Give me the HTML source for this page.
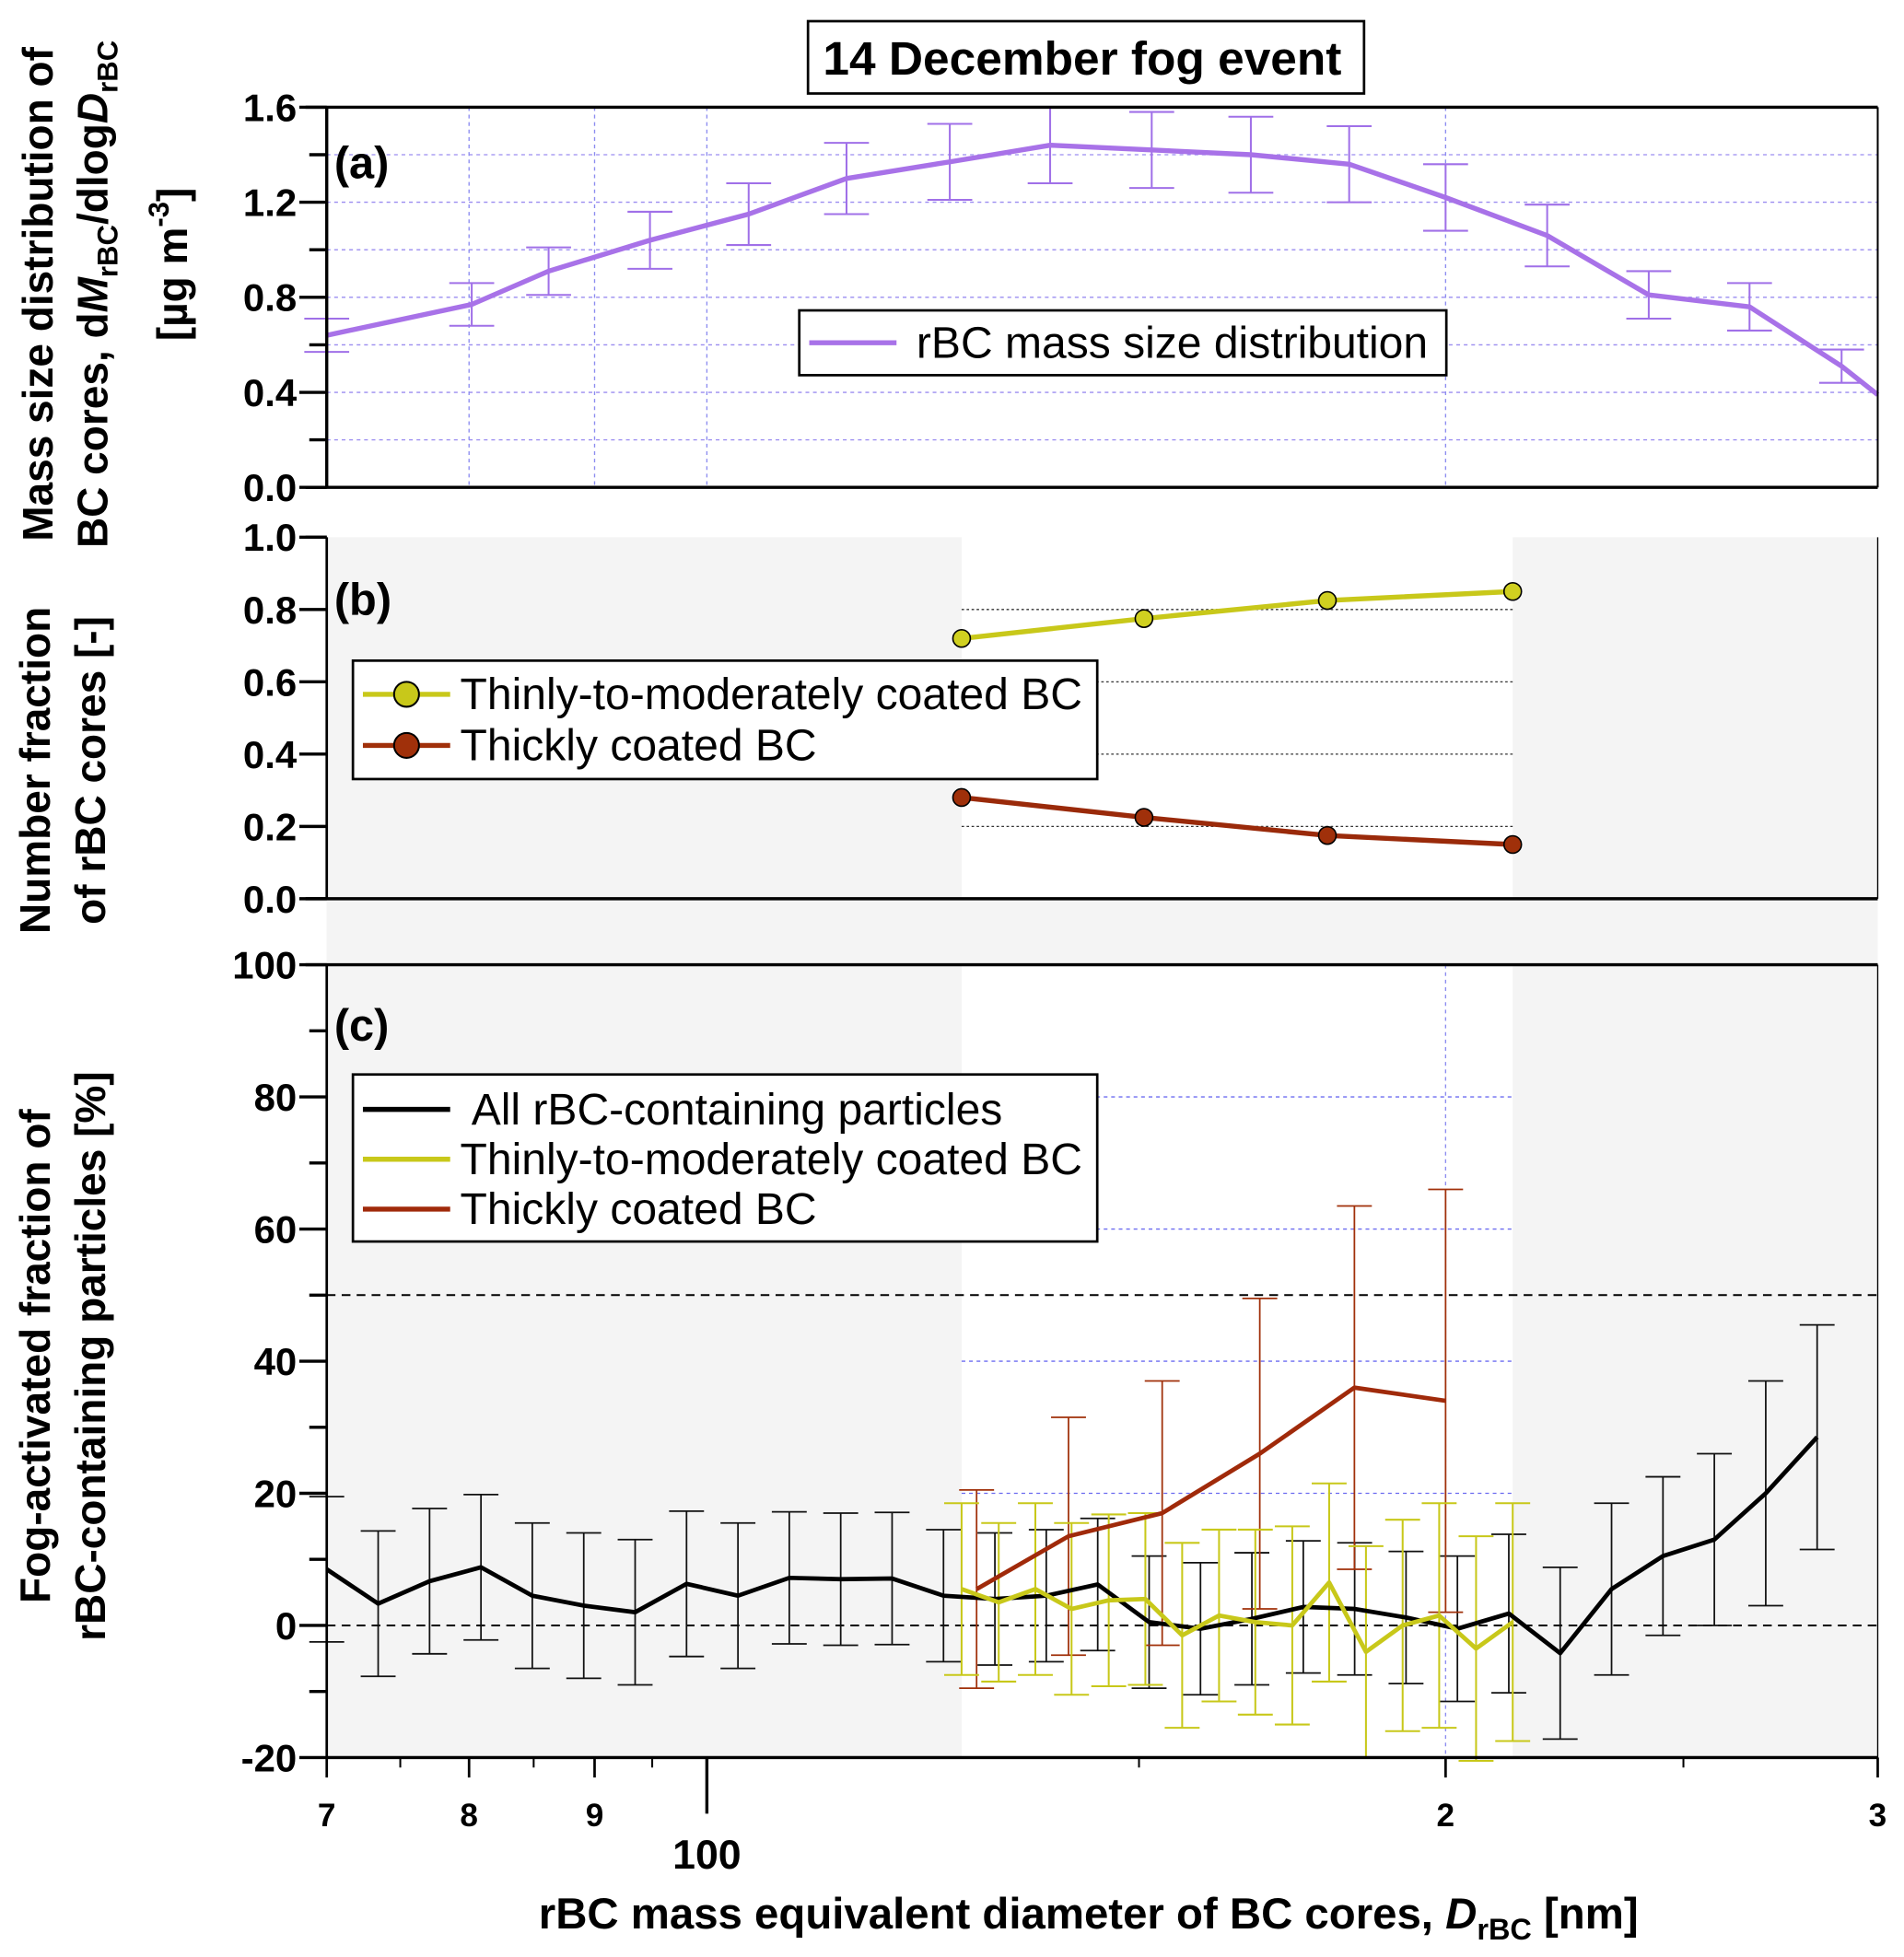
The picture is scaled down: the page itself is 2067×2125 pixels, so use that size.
<!DOCTYPE html>
<html><head><meta charset="utf-8"><style>
html,body{margin:0;padding:0;background:#fff;}
svg{display:block;font-family:"Liberation Sans",Arial,sans-serif;}
</style></head><body>
<svg id="chart" width="2067" height="2125" viewBox="0 0 1527 1570" xmlns="http://www.w3.org/2000/svg">
<g id="bg"></g>
<g id="grid"></g>
<g id="marks"></g>
<g id="axes"></g>
<g id="title-box">
  <rect x="648" y="17" width="446" height="58" fill="#fff" stroke="#000" stroke-width="2"/>
  <text x="868" y="60" text-anchor="middle" font-size="38" font-weight="bold">14 December fog event</text>
</g>
<text x="268" y="143" font-size="36" font-weight="bold">(a)</text>
<text x="268" y="493" font-size="36" font-weight="bold">(b)</text>
<text x="268" y="835" font-size="36" font-weight="bold">(c)</text>
<g font-weight="bold" font-size="34" text-anchor="middle">
  <text transform="translate(42,236) rotate(-90)">Mass size distribution of</text>
  <text transform="translate(86,236) rotate(-90)">BC cores, d<tspan font-style="italic">M</tspan><tspan font-size="23" dy="8">rBC</tspan><tspan dy="-8">/dlog</tspan><tspan font-style="italic">D</tspan><tspan font-size="23" dy="8">rBC</tspan></text>
  <text transform="translate(150,212) rotate(-90)">[µg m<tspan font-size="23" dy="-15">-3</tspan><tspan dy="15">]</tspan></text>
</g>
<g font-weight="bold" font-size="34" text-anchor="middle">
  <text transform="translate(40,618) rotate(-90)">Number fraction</text>
  <text transform="translate(84,618) rotate(-90)">of rBC cores [-]</text>
</g>
<g font-weight="bold" font-size="34" text-anchor="middle">
  <text transform="translate(40,1088) rotate(-90)">Fog-activated fraction of</text>
  <text transform="translate(84,1088) rotate(-90)">rBC-containing particles [%]</text>
</g>
<text x="873" y="1547" text-anchor="middle" font-size="35" font-weight="bold">rBC mass equivalent diameter of BC cores, <tspan font-style="italic">D</tspan><tspan font-size="24" dy="9">rBC</tspan><tspan dy="-9"> [nm]</tspan></text>
<g id="legends"></g>
</svg>
<script>
// ---- data ----
const diamA = [70,80.2,86.2,94.8,104,114,125.6,138,151.8,166.6,182.7,200,220,242,266,290,300];
const massA = [0.64,0.77,0.91,1.04,1.15,1.30,1.37,1.44,1.42,1.40,1.36,1.22,1.06,0.81,0.76,0.51,0.39];
const massErr = [0.07,0.09,0.10,0.12,0.13,0.15,0.16,0.16,0.16,0.16,0.16,0.14,0.13,0.10,0.10,0.07,0];
const diamB = [127,150.7,179,213];
const fracThin = [0.72,0.775,0.825,0.85];
const fracThick = [0.28,0.225,0.175,0.15];
const diamAll = [70,73.46,77.09,80.90,84.89,89.09,93.49,98.11,102.96,108.04,113.38,118.98,124.86,131.03,137.50,144.30,151.43,158.91,166.76,175.00,183.64,192.71,202.23,212.22,222.70,233.70,245.25,257.36,270.08,283.42];
const actAll = [8.5,3.3,6.7,8.8,4.5,3.0,2.0,6.3,4.5,7.2,7.0,7.1,4.5,4.0,4.5,6.2,0.5,-0.5,1.0,2.8,2.5,1.2,-0.5,1.8,-4.2,5.5,10.5,13.0,20.0,28.5];
const errAll = [11,11,11,11,11,11,11,11,11,10,10,10,10,10,10,10,10,10,10,10,10,10,11,12,13,13,12,13,17,17];
const diamThin = [127,131.5,136.1,140.8,145.8,150.9,156.2,161.7,167.3,173.2,179.3,185.6,192.1,198.8,205.8,213.0];
const actThin = [5.5,3.5,5.5,2.5,3.8,4.0,-1.5,1.5,0.5,0,6.5,-4,0,1.5,-3.5,0.5];
const errThin = [13,12,13,13,13,13,14,13,14,15,15,16,16,17,17,18];
const diamThick = [128.8,140.4,153.3,168,183.6,200];
const actThick = [5.5,13.5,17.0,26,36,34];
const errThick = [15,18,20,23.5,27.5,32];
const ticksA = [0,0.4,0.8,1.2,1.6];
const ticksB = [0,0.2,0.4,0.6,0.8,1.0];
const ticksC = [-20,0,20,40,60,80,100];
const xTickVals = [70,80,90,200,300];
const xTickLabels = ["7","8","9","2","3"];

// ---- scales ----
const X0=262, X1=1506;
const x = d => X0 + Math.log10(d/70)/Math.log10(300/70)*(X1-X0);
const yA = v => 391 - v/1.6*(391-86);
const yB = v => 721 - v*(721-431);
const yC = v => 1410 - (v+20)/120*(1410-774);
const NS="http://www.w3.org/2000/svg";
function mk(parent,tag,attrs){const e=document.createElementNS(NS,tag);for(const k in attrs)e.setAttribute(k,attrs[k]);document.getElementById(parent).appendChild(e);return e;}
const L=(p,x1,y1,x2,y2,st,w,da)=>mk(p,'line',{x1,y1,x2,y2,stroke:st,'stroke-width':w||1,'stroke-dasharray':da||'none'});

let r;
r=mk('bg','rect',{x:X0,y:431,width:x(127)-X0,height:1410-431,fill:'#f4f4f4'});


r=mk('bg','rect',{x:x(213),y:431,width:X1-x(213),height:1410-431,fill:'#f4f4f4'});


r=mk('bg','rect',{x:X0,y:721,width:X1-X0,height:53,fill:'#f4f4f4'});



for(let v=0.2;v<1.6;v+=0.2){L('grid',X0,yA(v),X1,yA(v),'#9a8cf0',1,'3,3');}
[80,90,100].forEach(d=>{L('grid',x(d),86,x(d),391,'#8c8cf0',1,'3,3');});
L('grid',x(200),86,x(200),391,'#8c8cf0',1,'3,3');
[0.2,0.4,0.6,0.8].forEach(v=>L('grid',x(127),yB(v),x(213),yB(v),'#333',1,'2,2'));
[20,40,60,80].forEach(v=>L('grid',x(127),yC(v),x(213),yC(v),'#6a6af0',1,'3,3'));
L('grid',x(200),774,x(200),1410,'#8c8cf0',1,'3,3');
L('grid',X0,yC(50),X1,yC(50),'#000',1.5,'7,5');
L('grid',X0,yC(0),X1,yC(0),'#000',1.5,'7,5');

function ebar(d,yl,yh,col,w,cap){L('marks',x(d),yl,x(d),yh,col,w);L('marks',x(d)-cap,yl,x(d)+cap,yl,col,w);L('marks',x(d)-cap,yh,x(d)+cap,yh,col,w);}
function poly(id,pts,col,w,name){const p=mk('marks','polyline',{points:pts.join(' '),fill:'none',stroke:col,'stroke-width':w,'stroke-linejoin':'round'});return p;}

diamA.forEach((d,i)=>{if(massErr[i]>0)ebar(d,yA(massA[i]-massErr[i]),yA(massA[i]+massErr[i]),'#a070e8',1.5,18);});
poly('a',diamA.map((d,i)=>x(d)+','+yA(massA[i])),'#a872e8',4,'rbc-mass-line');

poly('b',diamB.map((d,i)=>x(d)+','+yB(fracThin[i])),'#c8c81a',4,'thin-fraction-line');
poly('b',diamB.map((d,i)=>x(d)+','+yB(fracThick[i])),'#9a2a0a',4,'thick-fraction-line');
diamB.forEach((d,i)=>{
  let c=mk('marks','circle',{cx:x(d),cy:yB(fracThin[i]),r:7,fill:'#d0d020',stroke:'#000','stroke-width':1.2});
  
  
  c=mk('marks','circle',{cx:x(d),cy:yB(fracThick[i]),r:7,fill:'#a0300a',stroke:'#000','stroke-width':1.2});
  
  
});

diamAll.forEach((d,i)=>ebar(d,yC(actAll[i]-errAll[i]),yC(actAll[i]+errAll[i]),'#111',1.3,14));
diamThick.forEach((d,i)=>ebar(d,yC(actThick[i]-errThick[i]),yC(actThick[i]+errThick[i]),'#a0300a',1.3,14));
diamThin.forEach((d,i)=>ebar(d,yC(actThin[i]-errThin[i]),yC(actThin[i]+errThin[i]),'#c8c81a',1.5,14));
poly('c',diamAll.map((d,i)=>x(d)+','+yC(actAll[i])),'#000',3.5,'all-activated-line');
poly('c',diamThick.map((d,i)=>x(d)+','+yC(actThick[i])),'#a02a0a',3.5,'thick-activated-line');
poly('c',diamThin.map((d,i)=>x(d)+','+yC(actThin[i])),'#c8c81a',3.5,'thin-activated-line');

L('axes',X0,86,X0,391,'#000',2.5);
L('axes',245,86,X1,86,'#000',2.5);
L('axes',245,391,X1,391,'#000',2.5);
L('axes',X1,86,X1,391,'#000',1.5);
L('axes',X0,431,X0,721,'#000',2);
L('axes',245,721,X1,721,'#000',2.5);
L('axes',245,774,X1,774,'#000',2.5);
L('axes',X0,774,X0,1410,'#000',2);
L('axes',X0,1410,X1,1410,'#000',2.5);
L('axes',X1,774,X1,1410,'#000',1);
L('axes',X1,431,X1,721,'#000',1);
L('axes',245,431,262,431,'#000',2.5);
function ytick(p,yy,label,major){L('axes',major?240:248,yy,X0,yy,'#000',2.5);if(label!==null){const t=mk('axes','text',{x:238,y:yy+11,'text-anchor':'end','font-size':31,'font-weight':'bold'});t.textContent=label;}}
ticksA.forEach(v=>ytick('a',yA(v),v.toFixed(1),1));
[0.2,0.6,1.0,1.4].forEach(v=>ytick('a',yA(v),null,0));
ticksB.forEach(v=>ytick('b',yB(v),v.toFixed(1),1));
ticksC.forEach(v=>ytick('c',yC(v),String(v),1));
[-10,10,30,50,70,90].forEach(v=>ytick('c',yC(v),null,0));
xTickVals.forEach((d,i)=>{L('axes',x(d),1410,x(d),1426,'#000',2);const t=mk('axes','text',{x:x(d),y:1465,'text-anchor':'middle','font-size':26,'font-weight':'bold'});t.textContent=xTickLabels[i];});
[75,85,95,150,250].forEach(d=>L('axes',x(d),1410,x(d),1418,'#000',1.5));
L('axes',x(100),1410,x(100),1455,'#000',2.5);
let t=mk('axes','text',{x:x(100),y:1499,'text-anchor':'middle','font-size':33,'font-weight':'bold'});t.textContent='100';



function legend(name,bx,by,bw,bh,items,fs){
  const g=mk('legends','g',{});
  
  
  const rc=document.createElementNS(NS,'rect');['x','y','width','height'].forEach((k,i)=>rc.setAttribute(k,[bx,by,bw,bh][i]));rc.setAttribute('fill','#fff');rc.setAttribute('stroke','#000');rc.setAttribute('stroke-width',2);g.appendChild(rc);
  items.forEach(it=>{
    const ln=document.createElementNS(NS,'line');ln.setAttribute('x1',bx+8);ln.setAttribute('x2',bx+78);ln.setAttribute('y1',it.y);ln.setAttribute('y2',it.y);ln.setAttribute('stroke',it.c);ln.setAttribute('stroke-width',4);g.appendChild(ln);
    if(it.dot){const c=document.createElementNS(NS,'circle');c.setAttribute('cx',bx+43);c.setAttribute('cy',it.y);c.setAttribute('r',10);c.setAttribute('fill',it.c);c.setAttribute('stroke','#000');c.setAttribute('stroke-width',1.5);g.appendChild(c);}
    const tx=document.createElementNS(NS,'text');tx.setAttribute('x',bx+it.tx);tx.setAttribute('y',it.y+12);tx.setAttribute('font-size',fs);tx.textContent=it.t;g.appendChild(tx);
  });
}
legend('legend-a',641,249,519,52,[{y:275,c:'#a872e8',t:'rBC mass size distribution',tx:94}],35.5);
legend('legend-b',283,530,597,95,[{y:557,c:'#c8c81a',dot:1,t:'Thinly-to-moderately coated BC',tx:86},{y:598,c:'#a0300a',dot:1,t:'Thickly coated BC',tx:86}],35.5);
legend('legend-c',283,862,597,134,[{y:890,c:'#000',t:'All rBC-containing particles',tx:95},{y:930,c:'#c8c81a',t:'Thinly-to-moderately coated BC',tx:86},{y:970,c:'#a02a0a',t:'Thickly coated BC',tx:86}],35.5);
</script>
</body></html>
